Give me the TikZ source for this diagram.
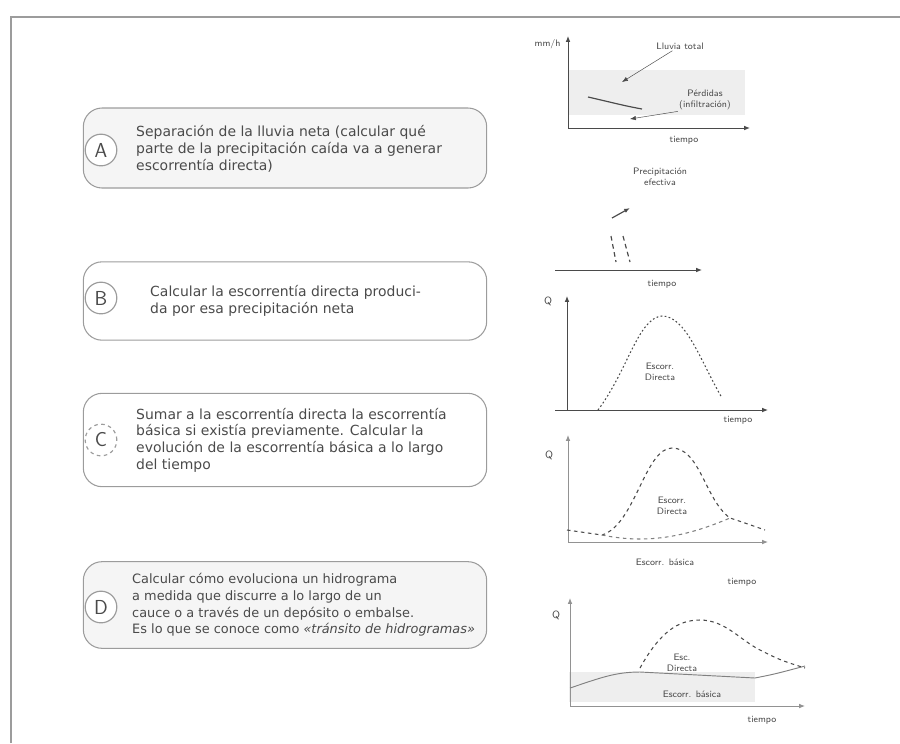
\documentclass[tikz,border=0pt]{standalone}
\usepackage{fontspec}
\usepackage{tikz}
\usetikzlibrary{positioning,arrows.meta}
\newfontfamily\boxfont{DejaVu Sans}
\definecolor{inkgray}{HTML}{4A4A4A}
\definecolor{framegray}{HTML}{9C9C9C}
\definecolor{bandgray}{HTML}{EEEEEE}

\tikzset{
  stepbox/.style={draw=framegray,line width=0.9pt,rounded corners=16pt,inner sep=0pt},
  stepletter/.style={circle,draw=framegray,line width=1pt,minimum size=0.95cm,inner sep=0pt,
    font=\sffamily\LARGE,text=inkgray},
  steptext/.style={anchor=west,align=left,inner sep=0pt,text=inkgray,
    font=\boxfont\fontsize{11.9}{14.3}\selectfont},
  axisline/.style={-{Latex[length=5pt,width=4pt]},inkgray,line width=0.8pt},
  hydro/.style={inkgray,line width=0.9pt,dashed},
  graphlabel/.style={inner sep=1pt,text=inkgray,font=\sffamily\footnotesize,align=center}
}

\begin{document}
\begin{tikzpicture}[x=0.03cm,y=-0.03cm]
  \useasboundingbox (0,0) rectangle (900,743);
  \draw[framegray,line width=2.5pt] (11,743) -- (11,17) -- (900,17);

  % steps on the left
  \node[stepbox,fill=black!4,minimum width=12.1cm,minimum height=2.4cm] (boxA) at (285,148) {};
  \node[stepletter,fill=white] (letA) at (101,150) {A};
  \node[steptext] (txtA) at (136,149)
    {Separación de la lluvia neta (calcular qué\\
     parte de la precipitación caída va a generar\\
     escorrentía directa)};

  \node[stepbox,minimum width=12.1cm,minimum height=2.35cm] (boxB) at (285,301) {};
  \node[stepletter,fill=white] (letB) at (101,298) {B};
  \node[steptext] (txtB) at (150,301)
    {Calcular la escorrentía directa produci-\\
     da por esa precipitación neta};

  \node[stepbox,minimum width=12.1cm,minimum height=2.8cm] (boxC) at (285,440) {};
  \node[stepletter,fill=white,dashed] (letC) at (101,440) {C};
  \node[steptext] (txtC) at (136,440)
    {Sumar a la escorrentía directa la escorrentía\\
     básica si existía previamente. Calcular la\\
     evolución de la escorrentía básica a lo largo\\
     del tiempo};

  \node[stepbox,fill=black!4,minimum width=12.1cm,minimum height=2.6cm] (boxD) at (285,605) {};
  \node[stepletter,fill=white] (letD) at (101,607) {D};
  \node[steptext,font=\boxfont\fontsize{11}{14.3}\selectfont] (txtD) at (132,605)
    {Calcular cómo evoluciona un hidrograma\\
     a medida que discurre a lo largo de un\\
     cauce o a través de un depósito o embalse.\\
     Es lo que se conoce como \textit{«tránsito de hidrogramas»}};

  % A: rainfall and losses
  \fill[bandgray] (569,70) rectangle (745,115);
  \coordinate (o1) at (568,128);
  \coordinate (y1) at (568,36);
  \coordinate (x1) at (750,128);
  \draw[axisline] (o1) -- (y1);
  \draw[axisline] (o1) -- (x1);
  \node[graphlabel,anchor=east] (mm1) at (562,44) {mm/h};
  \draw[inkgray,line width=1pt] (588,97) .. controls (610,102) and (625,106) .. (642,109);
  \node[graphlabel] (tot1) at (680,46) {Lluvia total};
  \coordinate (rain1) at (622,82);
  \draw[-{Latex[length=5pt]},inkgray] (tot1) -- (rain1);
  \node[graphlabel] (loss1) at (705,100) {Pérdidas\\(infiltración)};
  \coordinate (loss1c) at (630,119);
  \draw[-{Latex[length=5pt]},inkgray] (loss1.south west) -- (loss1c);
  \node[graphlabel] (t1) at (684,140) {tiempo};
  \node[graphlabel] (neta1) at (660,177) {Precipitación\\efectiva};

  % B: net rain on the catchment
  \coordinate (o2) at (555,270);
  \coordinate (x2) at (702,270);
  \draw[axisline] (o2) -- (x2);
  \coordinate (ra) at (611,236);  \coordinate (rb) at (616,262);
  \coordinate (rc) at (623,236);  \coordinate (rd) at (630,262);
  \draw[inkgray,line width=1pt,dash pattern=on 4pt off 3pt] (ra) -- (rb);
  \draw[inkgray,line width=1pt,dash pattern=on 4pt off 3pt] (rc) -- (rd);
  \coordinate (s0) at (612,218);  \coordinate (s1) at (630,208);
  \draw[-{Latex[length=5pt]},inkgray,line width=1pt] (s0) -- (s1);
  \node[graphlabel] (t2) at (662,284) {tiempo};

  \coordinate (o3) at (567,410);
  \coordinate (y3) at (567,296);
  \coordinate (x3) at (768,410);
  \draw[axisline] (o3) -- (y3);
  \draw[axisline] (555,410) -- (x3);
  \node[graphlabel,font=\sffamily\small] (q3) at (548,301) {Q};
  \draw[hydro,dash pattern=on 1.5pt off 2pt] (598,410) .. controls (628,370) and (638,318) .. (662,316)
     .. controls (686,316) and (700,360) .. (722,398);
  \node[graphlabel] (dir3) at (660,372) {Escorr.\\Directa};
  \node[graphlabel] (t3) at (738,420) {tiempo};

  % C: base flow added
  \coordinate (o4) at (568,542);
  \coordinate (y4) at (568,435);
  \coordinate (x4) at (768,542);
  \draw[axisline,inkgray!60] (o4) -- (y4);
  \draw[axisline,inkgray!60] (o4) -- (x4);
  \node[graphlabel,font=\sffamily\small] (q4) at (549,455) {Q};
  \draw[hydro] (567,530) -- (602,535) .. controls (635,525) and (645,448) .. (672,448)
     .. controls (700,448) and (705,500) .. (730,518) .. controls (745,523) .. (765,530);
  \draw[hydro,inkgray!70] (602,535) .. controls (650,545) and (690,535) .. (730,518);
  \node[graphlabel] (dir4) at (672,506) {Escorr.\\Directa};
  \node[graphlabel] (bas4) at (665,562) {Escorr. básica};
  \node[graphlabel] (t4) at (742,582) {tiempo};

  % D: routed hydrograph
  \fill[bandgray] (569,672) rectangle (755,702);
  \coordinate (o5) at (570,706);
  \coordinate (y5) at (570,598);
  \coordinate (x5) at (805,706);
  \draw[axisline,inkgray!60] (o5) -- (y5);
  \draw[axisline,inkgray!60] (o5) -- (x5);
  \node[graphlabel,font=\sffamily\small] (q5) at (556,615) {Q};
  \draw[inkgray!70,line width=0.8pt] (570,688) .. controls (600,678) and (615,672) .. (640,672)
     -- (755,678) .. controls (775,674) .. (805,666);
  \draw[hydro] (640,668) .. controls (660,632) and (678,620) .. (700,620)
     .. controls (725,620) and (740,640) .. (760,650) .. controls (780,660) .. (805,668);
  \node[graphlabel] (dir5) at (682,663) {Esc.\\Directa};
  \node[graphlabel] (bas5) at (692,694) {Escorr. básica};
  \node[graphlabel] (t5) at (762,720) {tiempo};
\end{tikzpicture}
\end{document}
